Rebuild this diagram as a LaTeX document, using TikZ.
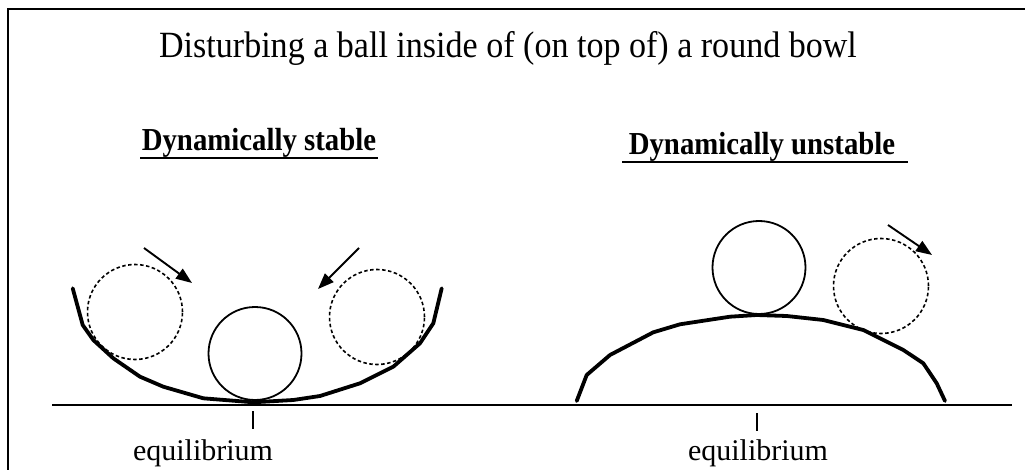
\documentclass[tikz,border=0pt]{standalone}
\usepackage{fontspec}
\setmainfont{Liberation Serif}
\newfontfamily\titlefont[FakeStretch=0.92]{Liberation Serif}
\newfontfamily\headfont[FakeStretch=0.9]{Liberation Serif}
\usetikzlibrary{arrows.meta}
\begin{document}
\begin{tikzpicture}[x=1pt,y=-1pt,
  ball/.style={circle,draw,line width=1.8pt,inner sep=0pt,minimum size=93pt},
  ghost/.style={circle,draw,line width=1.6pt,dash pattern=on 3.5pt off 2.5pt,inner sep=0pt,minimum size=95pt},
  bowl/.style={line width=3.8pt,line join=round,line cap=round},
  push/.style={line width=1.9pt,-{Triangle[length=16pt,width=12pt]}},
  lbl/.style={inner sep=0pt,anchor=base,font=\fontsize{30}{34}\selectfont},
  head/.style={inner sep=0pt,anchor=base,font=\headfont\fontsize{32}{36}\selectfont\bfseries},
  ul/.style={line width=2.2pt}]
\useasboundingbox (0,0) rectangle (1025,470);
% frame
\draw[line width=2.5pt] (8,470) -- (8,9) -- (1030,9);
% title
\node[lbl,font=\titlefont\fontsize{37}{42}\selectfont] (title) at (508,58) {Disturbing a ball inside of (on top of) a round bowl};
% headings
\node[head] (hs) at (259,151) {Dynamically stable};
\draw[ul] (140,158) -- (378,158);
\node[head] (hu) at (762,155) {Dynamically unstable};
\draw[ul] (622,162) -- (908,162);
% ground
\draw[line width=2pt] (52,405) -- (1012,405);
% left bowl
\draw[bowl] (72.7,288.3) -- (82.7,325) -- (93.3,340) -- (113.3,358.3) -- (140,376.7) -- (163.3,386.7) -- (203.3,398.3) -- (253.3,402.3) -- (293.3,400) -- (320,396) -- (360,383.3) -- (393.3,366.7) -- (420,343.3) -- (433.3,323.3) -- (441.7,288.3);
\node[ball] (b1) at (255,353.5) {};
\node[ghost] (g1) at (135,312) {};
\node[ghost] (g2) at (377,317) {};
\coordinate (a1s) at (144,248);
\coordinate (a1e) at (192,283);
\coordinate (a2s) at (359,248);
\coordinate (a2e) at (318,289);
\draw[push] (a1s) -- (a1e);
\draw[push] (a2s) -- (a2e);
% right dome
\draw[bowl] (576.7,401) -- (586.7,375) -- (610,355) -- (653.3,332.3) -- (680,324.3) -- (730,316.7) -- (756.7,315) -- (786.7,316) -- (823.3,320) -- (863.3,330) -- (903.3,350) -- (923.3,363.3) -- (936.7,383.3) -- (945,401);
\node[ball] (b2) at (759,267.5) {};
\node[ghost] (g3) at (881,286) {};
\coordinate (a3s) at (888,225);
\coordinate (a3e) at (932,255);
\draw[push] (a3s) -- (a3e);
% ticks
\coordinate (t1a) at (253,411);
\coordinate (t1b) at (253,429);
\coordinate (t2a) at (757,413);
\coordinate (t2b) at (757,431);
\draw[line width=1.8pt] (t1a) -- (t1b);
\draw[line width=1.8pt] (t2a) -- (t2b);
% labels
\node[lbl] (e1) at (203,460) {equilibrium};
\node[lbl] (e2) at (758,460) {equilibrium};
\end{tikzpicture}
\end{document}
